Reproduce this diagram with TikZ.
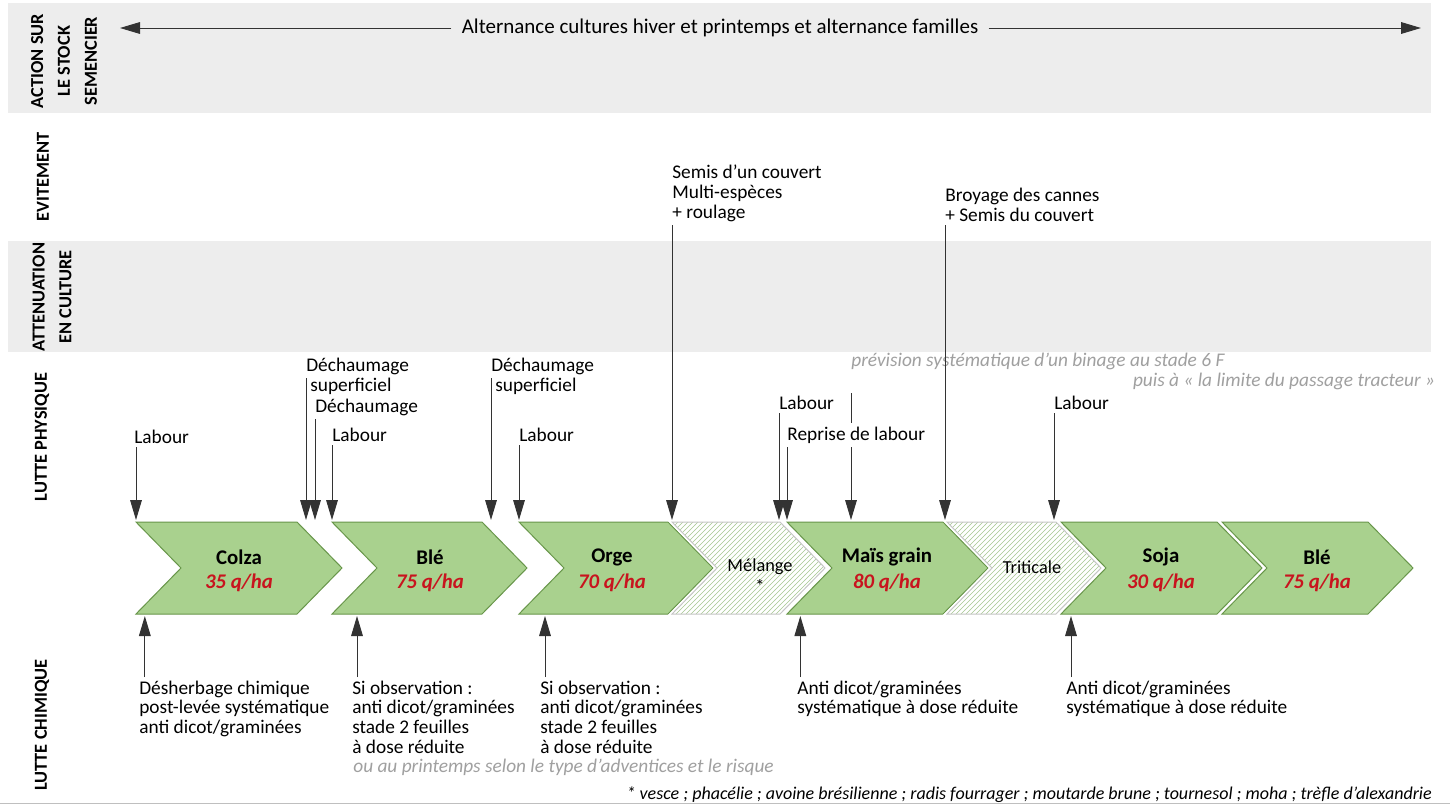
\documentclass[tikz,border=0pt]{standalone}
\usepackage{fontspec}
\setmainfont{Carlito}
\usetikzlibrary{arrows.meta,patterns}

\definecolor{bandgray}{RGB}{237,237,237}
\definecolor{cropgreen}{RGB}{169,209,142}
\definecolor{cropedge}{RGB}{104,150,74}
\definecolor{hatchgreen}{RGB}{165,198,145}
\definecolor{yieldred}{RGB}{200,20,30}
\definecolor{notegray}{RGB}{160,160,160}

\tikzset{>={Triangle[width=7pt,length=12pt]}}
\tikzset{
  lbl/.style={font=\fontsize{11.6}{11.8}\selectfont, inner xsep=0pt, inner ysep=2pt, align=left},
  note/.style={lbl, text=notegray, font=\fontsize{11.6}{11.8}\selectfont\itshape},
  side/.style={font=\fontsize{11}{13.6}\selectfont\bfseries, rotate=90, align=center},
  band/.style={fill=bandgray},
  crop/.style={fill=cropgreen, draw=cropedge, line width=0.6pt, preaction={draw=white, line width=2.5pt}},
  mix/.style={preaction={draw=white, line width=2.5pt}, preaction={fill=white}, pattern=north east lines, pattern color=hatchgreen, draw=gray!45, line width=0.6pt},
  cname/.style={font=\fontsize{12.5}{12.5}\selectfont\bfseries},
  yield/.style={font=\fontsize{12.5}{12.5}\selectfont\bfseries\itshape, text=yieldred},
  mname/.style={font=\fontsize{11}{11}\selectfont},
  arr/.style={->, draw=black!80, line width=0.6pt},
}
% chevron : x gauche, x pointe
\newcommand{\culture}[3][crop]{\draw[#1] (#2,522) -- (#3-45,522) -- (#3,568) -- (#3-45,614) -- (#2,614) -- (#2+45,568) -- cycle;}

\begin{document}
\begin{tikzpicture}[x=0.6pt,y=-0.6pt]
  \fill[white] (0,0) rectangle (1450,805);
  \useasboundingbox (0,0) rectangle (1450,805);

  % bandes grises
  \fill[band] (8,3) rectangle (1431,113);
  \fill[band] (8,241) rectangle (1431,352);
  \draw[gray!50] (0,803) -- (1450,803);

  % titres des lignes
  \node[side] (stock) at (64,61) {ACTION SUR\\[2.5pt]LE STOCK\\[2.5pt]SEMENCIER};
  \node[side] (evit) at (43,177) {EVITEMENT};
  \node[side] (atten) at (52,297) {ATTENUATION\\[2.5pt]EN CULTURE};
  \node[side] (phys) at (42,437) {LUTTE PHYSIQUE};
  \node[side] (chim) at (42,725) {LUTTE CHIMIQUE};

  % alternance
  \node[lbl, fill=bandgray, inner xsep=6pt, font=\fontsize{12.6}{12.6}\selectfont] (alt) at (720,28) {Alternance cultures hiver et printemps et alternance familles};
  \coordinate (altW) at (120,28);
  \coordinate (altE) at (1421,28);
  \draw[arr] (alt) -- (altW);
  \draw[arr] (alt) -- (altE);

  % rotation
  \culture{136}{342}
  \culture{332}{527}
  \culture{519}{713}
  \culture[mix]{672}{825}
  \culture{787}{988}
  \culture[mix]{947}{1101}
  \culture{1061}{1262}
  \culture{1222}{1413}

  \node[cname] (colza) at (239,557) {Colza};
  \node[yield] at (239,583) {35 q/ha};
  \node[cname] (ble) at (430,557) {Blé};
  \node[yield] at (430,583) {75 q/ha};
  \node[cname] (orge) at (612,557) {Orge};
  \node[yield] at (612,583) {70 q/ha};
  \node[mname] (melange) at (760,567) {Mélange};
  \node[mname] at (760,586) {*};
  \node[cname] (mais) at (887,557) {Maïs grain};
  \node[yield] at (887,583) {80 q/ha};
  \node[mname] (triticale) at (1032,567) {Triticale};
  \node[cname] (soja) at (1161,557) {Soja};
  \node[yield] at (1161,583) {30 q/ha};
  \node[cname] (ble2) at (1317,557) {Blé};
  \node[yield] at (1317,583) {75 q/ha};

  \coordinate (top) at (0,520);
  \coordinate (bot) at (0,616);

  % lutte physique / evitement
  \node[lbl, anchor=south west] (lab1) at (134,447) {Labour};
  \draw[arr] (lab1.south west) ++(2,0) -- (136,520);
  \node[lbl, anchor=south west] (dech1) at (306,378) {Déchaumage};
  \node[lbl, anchor=north west] (sup1) at (310,374) {superficiel};
  \draw[arr] (dech1.south west) -- (dech1.south west |- top);
  \node[lbl, anchor=south west] (dech2) at (315,419) {Déchaumage};
  \draw[arr] (dech2.south west) -- (dech2.south west |- top);
  \node[lbl, anchor=south west] (lab2) at (332,445) {Labour};
  \draw[arr] (lab2.south west) -- (lab2.south west |- top);
  \node[lbl, anchor=south west] (dech3) at (491,378) {Déchaumage};
  \node[lbl, anchor=north west] (sup3) at (495,374) {superficiel};
  \draw[arr] (dech3.south west) -- (dech3.south west |- top);
  \node[lbl, anchor=south west] (lab3) at (519,445) {Labour};
  \draw[arr] (lab3.south west) -- (lab3.south west |- top);
  \node[lbl, anchor=south west] (semis) at (672,225) {Semis d’un couvert\\Multi-espèces\\+ roulage};
  \draw[arr] (semis.south west) -- (semis.south west |- top);
  \node[lbl, anchor=south west] (lab4) at (779,413) {Labour};
  \draw[arr] (lab4.south west) -- (lab4.south west |- top);
  \node[note, anchor=south west] (binage) at (851,393) {prévision systématique d’un binage au stade 6 F\\\hspace*{169pt}puis à « la limite du passage tracteur »};
  \draw[arr] (binage.south west) -- (binage.south west |- top);
  \node[lbl, anchor=south west, fill=white] (reprise) at (787,447) {Reprise de labour};
  \draw[arr] (reprise.south west) -- (reprise.south west |- top);
  \node[lbl, anchor=south west] (broy) at (945,225) {Broyage des cannes\\+ Semis du couvert};
  \draw[arr] (broy.south west) -- (broy.south west |- top);
  \node[lbl, anchor=south west] (lab5) at (1054,413) {Labour};
  \draw[arr] (lab5.south west) -- (lab5.south west |- top);

  % lutte chimique
  \node[lbl, anchor=north west] (chim1) at (139,677) {Désherbage chimique\\post-levée systématique\\anti dicot/graminées};
  \draw[arr] ([xshift=3.5pt]chim1.north west) -- ([xshift=3.5pt]chim1.north west |- bot);
  \node[lbl, anchor=north west] (chim2) at (352,677) {Si observation :\\anti dicot/graminées\\stade 2 feuilles\\à dose réduite};
  \draw[arr] ([xshift=3pt]chim2.north west) -- ([xshift=3pt]chim2.north west |- bot);
  \node[lbl, anchor=north west] (chim3) at (540,677) {Si observation :\\anti dicot/graminées\\stade 2 feuilles\\à dose réduite};
  \draw[arr] ([xshift=3pt]chim3.north west) -- ([xshift=3pt]chim3.north west |- bot);
  \node[lbl, anchor=north west] (chim4) at (797,677) {Anti dicot/graminées\\systématique à dose réduite};
  \draw[arr] ([xshift=2pt]chim4.north west) -- ([xshift=2pt]chim4.north west |- bot);
  \node[lbl, anchor=north west] (chim5) at (1066,677) {Anti dicot/graminées\\systématique à dose réduite};
  \draw[arr] ([xshift=3pt]chim5.north west) -- ([xshift=3pt]chim5.north west |- bot);
  \node[note, anchor=west] (printemps) at (353,767) {ou au printemps selon le type d’adventices et le risque};

  % note
  \node[lbl, anchor=east, font=\fontsize{10.8}{10.8}\selectfont\itshape] (melnote) at (1432,795) {* vesce ; phacélie ; avoine brésilienne ; radis fourrager ; moutarde brune ; tournesol ; moha ; trèfle d'alexandrie};
\end{tikzpicture}
\end{document}
